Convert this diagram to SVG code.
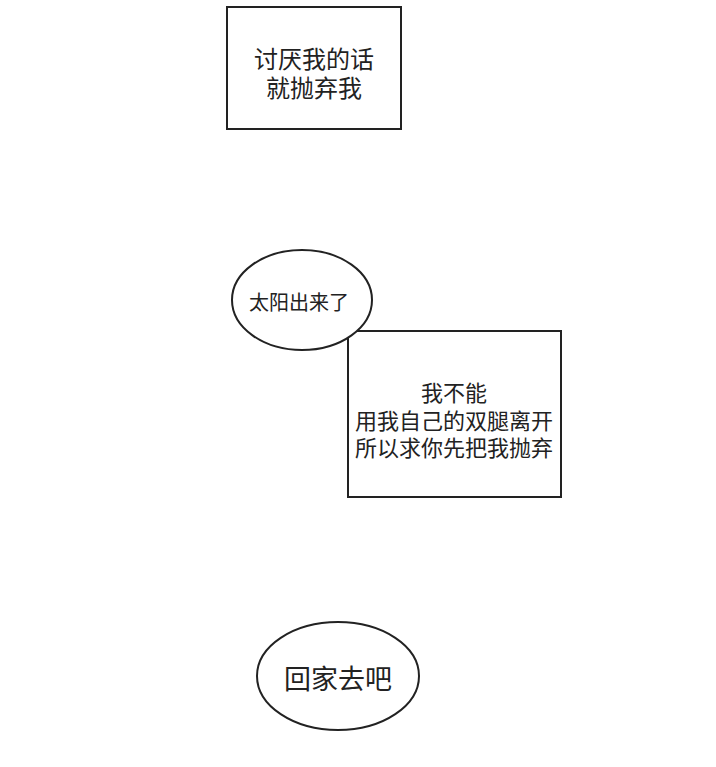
<svg xmlns="http://www.w3.org/2000/svg" width="716" height="767" viewBox="0 0 716 767">
<style>
.b{fill:#fff;stroke:#222;stroke-width:2}
.t{font-family:"Noto Sans CJK SC","Noto Sans",sans-serif;fill:#222;text-anchor:middle;dominant-baseline:central}
</style>
<rect width="716" height="767" fill="#fff"/>
<g id="box1">
<rect class="b" x="227" y="7" width="174" height="122"/>
<text class="t" x="314" y="57" font-size="24">讨厌我的话</text>
<text class="t" x="314" y="86" font-size="24">就抛弃我</text>
</g>
<g id="box2">
<rect class="b" x="348" y="331" width="213" height="166"/>
<text class="t" x="454" y="391" font-size="22">我不能</text>
<text class="t" x="454" y="419" font-size="22">用我自己的双腿离开</text>
<text class="t" x="454" y="446" font-size="22">所以求你先把我抛弃</text>
</g>
<g id="bubble1">
<ellipse class="b" cx="302" cy="300" rx="70" ry="50" stroke-width="1.5"/>
<text class="t" x="299" y="301" font-size="20">太阳出来了</text>
</g>
<g id="bubble2">
<ellipse class="b" cx="338" cy="676" rx="81" ry="54" stroke-width="1.5"/>
<text class="t" x="338" y="677" font-size="27">回家去吧</text>
</g>
<g id="connectors"></g>
</svg>
